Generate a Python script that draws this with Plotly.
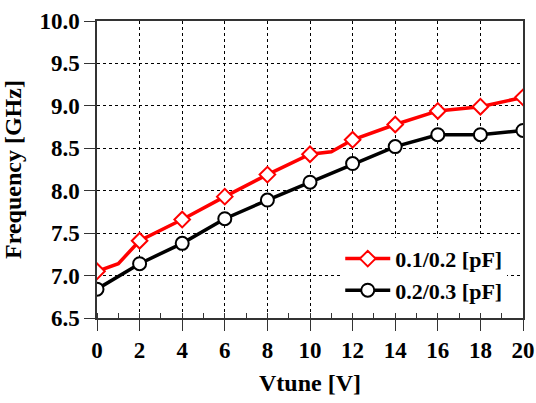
import plotly.graph_objects as go

# Tuning voltage sweep (V) and measured oscillation frequency (GHz)
red_vtune = [0, 1, 2, 4, 6, 8, 10, 11, 12, 14, 16, 18, 20]
red_freq = [7.05, 7.14, 7.41, 7.66, 7.93, 8.19, 8.43, 8.46, 8.60, 8.78, 8.94, 8.99, 9.10]

black_vtune = [0, 2, 4, 6, 8, 10, 12, 14, 16, 18, 20]
black_freq = [6.84, 7.14, 7.38, 7.67, 7.89, 8.10, 8.32, 8.52, 8.66, 8.66, 8.71]

series_names = ["0.1/0.2 [pF]", "0.2/0.3 [pF]"]

x_ticks = list(range(0, 21, 2))
y_ticks = [6.5, 7.0, 7.5, 8.0, 8.5, 9.0, 9.5, 10.0]

FONT = "Times New Roman, Liberation Serif, serif"
RED = "#ff0000"
BLACK = "#000000"
CLEAR = "rgba(0,0,0,0)"


def marker_colors(xs, fill, edge):
    # symbols only on the even-volt samples; intermediate samples are line-only
    fills = [fill if v % 2 == 0 else CLEAR for v in xs]
    edges = [edge if v % 2 == 0 else CLEAR for v in xs]
    return fills, edges


fig = go.Figure()

rf, re_ = marker_colors(red_vtune, "white", RED)
fig.add_trace(go.Scatter(
    x=red_vtune, y=red_freq, name=series_names[0], mode="lines+markers",
    line=dict(color=RED, width=3.5),
    marker=dict(symbol="diamond", size=12, color=rf,
                line=dict(color=re_, width=2)),
))

bf, be = marker_colors(black_vtune, "white", BLACK)
fig.add_trace(go.Scatter(
    x=black_vtune, y=black_freq, name=series_names[1], mode="lines+markers",
    line=dict(color=BLACK, width=3.5),
    marker=dict(symbol="circle", size=13, color=bf,
                line=dict(color=be, width=2)),
))

axis_common = dict(
    showline=True, linecolor="#333333", linewidth=1.5, mirror=True,
    showgrid=True, gridcolor="black", gridwidth=1, griddash="3px,3px",
    zeroline=False, ticks="outside", ticklen=11, tickwidth=1.2,
    tickcolor="#333333", automargin=False,
    tickfont=dict(family=FONT, size=23, color="black", weight="bold"),
)

fig.update_xaxes(
    range=[0, 20], tickvals=x_ticks,
    minor=dict(dtick=1, ticks="inside", ticklen=5, tickcolor="#333333",
               showgrid=False),
    title=dict(text="Vtune [V]", standoff=12,
               font=dict(family=FONT, size=24, color="black", weight="bold")),
    **axis_common,
)
fig.update_yaxes(
    range=[6.5, 10.0], tickvals=y_ticks, tickformat=".1f",
    title=dict(text="Frequency [GHz]", standoff=14,
               font=dict(family=FONT, size=24, color="black", weight="bold")),
    **axis_common,
)

fig.update_layout(
    width=536, height=403,
    margin=dict(l=97, r=13, t=21, b=85),
    plot_bgcolor="white", paper_bgcolor="white",
    legend=dict(
        x=0.571, y=0.27, xanchor="left", yanchor="top",
        bgcolor="white", borderwidth=0, itemwidth=45,
        font=dict(family=FONT, size=22, color="black", weight="bold"),
        tracegroupgap=0,
    ),
)

fig.write_html("out.html")
